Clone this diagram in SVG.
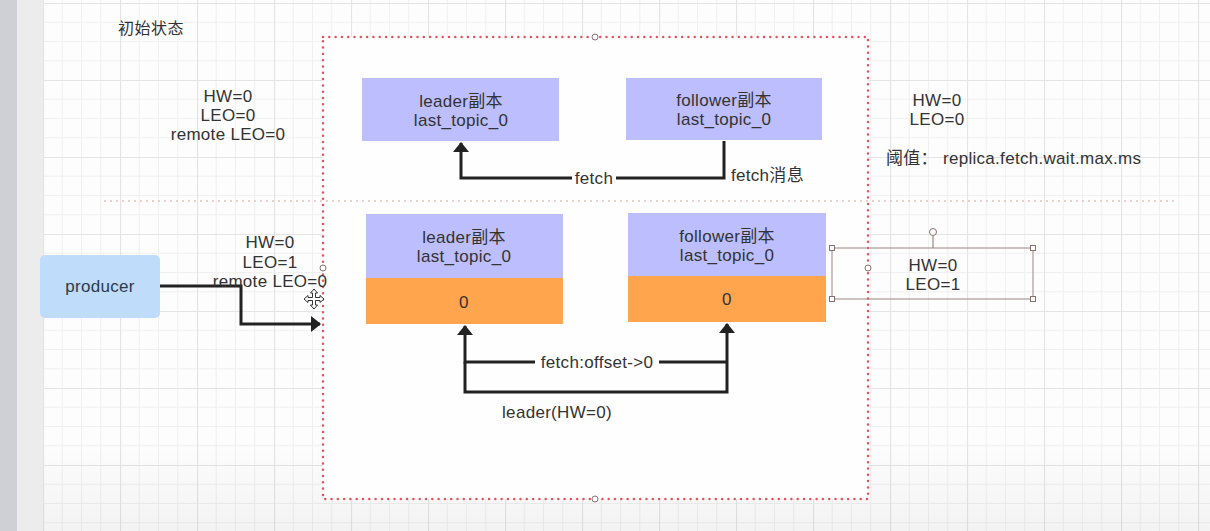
<svg xmlns="http://www.w3.org/2000/svg" width="1210" height="531" viewBox="0 0 1210 531">
<defs>
<pattern id="grid" patternUnits="userSpaceOnUse" x="43" y="3" width="77" height="77">
<rect width="77" height="77" fill="#fdfdfd"/>
<path d="M19.25 0V77M38.5 0V77M57.75 0V77M0 19.25H77M0 38.5H77M0 57.75H77" stroke="#f0f0f0" stroke-width="1" fill="none"/>
<path d="M0.5 0V77M0 0.5H77" stroke="#e4e4e4" stroke-width="1.2" fill="none"/>
</pattern>
<marker id="arr" viewBox="0 0 10 16" refX="9" refY="8" markerWidth="10" markerHeight="16" markerUnits="userSpaceOnUse" orient="auto">
<path d="M0 0L10 8L0 16Z" fill="#222"/>
</marker>
<linearGradient id="shade" x1="0" y1="0" x2="0" y2="1">
<stop offset="0" stop-color="#000" stop-opacity="0"/>
<stop offset="1" stop-color="#000" stop-opacity="0.04"/>
</linearGradient>
</defs>
<style>
text{font-family:"Liberation Sans","Noto Sans CJK SC",sans-serif;font-size:17px;letter-spacing:0.3px;fill:#333;}
.c{text-anchor:middle;}
.edge{fill:none;stroke:#222;stroke-width:3;}
.blue{fill:#bcbefd;}
.orange{fill:#fea54e;}
.handle{fill:#fff;stroke:#8a6e6e;stroke-width:1;}
</style>
<rect x="0" y="0" width="1210" height="531" fill="#fdfdfd"/>
<rect x="0" y="0" width="17" height="531" fill="#cfd0d6"/>
<rect x="17" y="0" width="26" height="531" fill="#ececec"/>
<rect x="43" y="0" width="1167" height="531" fill="url(#grid)"/>
<rect x="43" y="440" width="1167" height="91" fill="url(#shade)"/>
<g id="container">
<rect x="323" y="37" width="545" height="462" fill="#fefefe"/>
<rect x="323" y="37" width="545" height="462" fill="none" stroke="#e5525d" stroke-width="2.5" stroke-dasharray="0 6.3" stroke-linecap="round"/>
<circle cx="595" cy="37" r="3" class="handle"/>
<circle cx="595" cy="499" r="3" class="handle"/>
<circle cx="323" cy="268" r="3" class="handle"/>
<circle cx="868" cy="268" r="3" class="handle"/>
</g>
<g id="divider">
<line x1="105" y1="201" x2="1175" y2="201" stroke="#ecbcbc" stroke-width="2" stroke-dasharray="0 6" stroke-linecap="round"/>
</g>
<g id="title"><text x="118" y="34" style="font-size:16px;letter-spacing:0.5px">初始状态</text></g>
<g id="leader-state-top">
<text class="c" x="228" y="102">HW=0</text>
<text class="c" x="228" y="121">LEO=0</text>
<text class="c" x="228" y="140">remote LEO=0</text>
</g>
<g id="follower-state-top">
<text class="c" x="937" y="106">HW=0</text>
<text class="c" x="937" y="125">LEO=0</text>
<text x="886" y="164">阈值： replica.fetch.wait.max.ms</text>
</g>
<g id="leader-top">
<rect class="blue" x="362" y="78" width="197" height="63"/>
<text class="c" x="461" y="107">leader副本</text>
<text class="c" x="461" y="126">last_topic_0</text>
</g>
<g id="follower-top">
<rect class="blue" x="626" y="78" width="196" height="62"/>
<text class="c" x="724" y="106">follower副本</text>
<text class="c" x="724" y="125">last_topic_0</text>
</g>
<g id="producer">
<rect x="40" y="255" width="120" height="63" rx="5" fill="#bfdcfb"/>
<text class="c" x="100" y="292" style="fill:#2d3a4a">producer</text>
</g>
<g id="leader-bottom">
<rect class="blue" x="366" y="214" width="197" height="64"/>
<rect class="orange" x="366" y="278" width="197" height="46"/>
<text class="c" x="464" y="243">leader副本</text>
<text class="c" x="464" y="262">last_topic_0</text>
<text class="c" x="464" y="308">0</text>
</g>
<g id="follower-bottom">
<rect class="blue" x="628" y="213" width="198" height="63"/>
<rect class="orange" x="628" y="276" width="198" height="46"/>
<text class="c" x="727" y="242">follower副本</text>
<text class="c" x="727" y="261">last_topic_0</text>
<text class="c" x="727" y="305">0</text>
</g>
<g id="leader-state-bottom">
<text class="c" x="270" y="248">HW=0</text>
<text class="c" x="270" y="268">LEO=1</text>
</g>
<g id="follower-state-bottom">
<rect x="832" y="248" width="201" height="51" fill="none" stroke="#9a8585" stroke-width="1"/>
<line x1="933" y1="236" x2="933" y2="248" stroke="#8a6e6e" stroke-width="1"/>
<circle cx="933" cy="232" r="3.5" class="handle"/>
<rect x="829.5" y="245.5" width="5" height="5" class="handle"/>
<rect x="1030.5" y="245.5" width="5" height="5" class="handle"/>
<rect x="829.5" y="296.5" width="5" height="5" class="handle"/>
<rect x="1030.5" y="296.5" width="5" height="5" class="handle"/>
<text class="c" x="933" y="271">HW=0</text>
<text class="c" x="933" y="290">LEO=1</text>
</g>
<g id="connectors">
<path class="edge" d="M724 141V178H461V143" marker-end="url(#arr)"/>
<path class="edge" d="M160 286H241V324H320" marker-end="url(#arr)"/>
<path class="edge" d="M727 362H465V326" marker-end="url(#arr)"/>
<path class="edge" d="M465 362V392H727V324" marker-end="url(#arr)"/>
<rect x="572" y="168" width="44" height="18" fill="#fefefe"/>
<text class="c" x="594" y="184">fetch</text>
<text x="731" y="181">fetch消息</text>
<rect x="535" y="352" width="124" height="18" fill="#fefefe"/>
<text class="c" x="597" y="368">fetch:offset-&gt;0</text>
<text class="c" x="557" y="418">leader(HW=0)</text>
</g>
<g id="remote-leo-label">
<text class="c" x="270" y="287">remote LEO=0</text>
</g>
<g id="cursor" transform="translate(314,299)">
<path d="M0 -10L-3.5 -6H-1.5V-1.5H-6V-3.5L-10 0L-6 3.5V1.5H-1.5V6H-3.5L0 10L3.5 6H1.5V1.5H6V3.5L10 0L6 -3.5V-1.5H1.5V-6H3.5Z" fill="#fff" stroke="#333" stroke-width="1"/>
</g>
</svg>
